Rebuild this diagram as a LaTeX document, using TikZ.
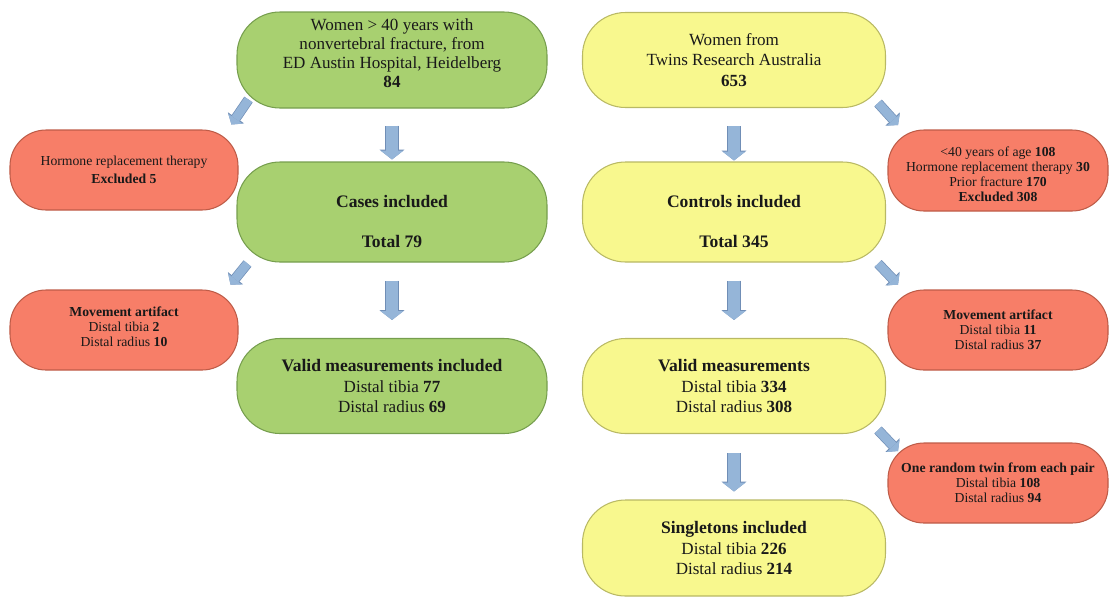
\documentclass[tikz,border=0pt]{standalone}
\usepackage{fontspec}
\setmainfont{Liberation Serif}
\usepackage{tikz}
\usetikzlibrary{arrows.meta}
\definecolor{cgreen}{RGB}{168,208,112}
\definecolor{cgreenline}{RGB}{118,158,78}
\definecolor{cyellow}{RGB}{248,248,142}
\definecolor{cyellowline}{RGB}{185,185,100}
\definecolor{cred}{RGB}{247,126,104}
\definecolor{credline}{RGB}{190,92,72}
\definecolor{carrow}{RGB}{149,181,216}
\definecolor{carrowline}{RGB}{112,142,182}

\begin{document}
\begin{tikzpicture}[thick,
  box/.style={draw,align=center,text=black!90,line width=0.6pt,inner sep=2pt},
  cases node/.style={box,fill=cgreen,draw=cgreenline,minimum width=6.2cm,
    minimum height=1.92cm,rounded corners=0.86cm,font=\fontsize{9.7}{11.6}\selectfont},
  controls node/.style={box,fill=cyellow,draw=cyellowline,minimum width=6.06cm,
    minimum height=1.92cm,rounded corners=0.86cm,font=\fontsize{9.7}{11.6}\selectfont},
  excl node/.style={box,fill=cred,draw=credline,minimum height=1.6cm,
    rounded corners=0.72cm,font=\fontsize{7.8}{8.6}\selectfont},
  down arrow/.style={carrow,line width=7pt,-{Triangle[length=5pt,width=13pt,line width=0pt]},
    preaction={draw=carrowline,line width=7.8pt,-{Triangle[length=5.6pt,width=14.2pt,line width=0pt]}}},
  side arrow/.style={carrow,line width=5pt,-{Triangle[length=4pt,width=10pt,line width=0pt]},
    preaction={draw=carrowline,line width=5.8pt,-{Triangle[length=4.6pt,width=11.2pt,line width=0pt]}}}]
  \useasboundingbox (0,0) rectangle (22.2,-11.94);

  % cases (left column)
  \node[cases node,font=\fontsize{9.7}{10.8}\selectfont] (topL) at (7.84,-1.2) {Women > 40 years with\\nonvertebral fracture, from\\ED Austin Hospital, Heidelberg\\\textbf{84}\rule[-8pt]{0pt}{8pt}};
  \node[cases node,minimum height=2cm] (cases) at (7.84,-4.24) {\rule{0pt}{18pt}\fontsize{10}{12}\selectfont\textbf{Cases included}\\[0.4cm]\fontsize{10}{12}\selectfont\textbf{Total 79}};
  \node[cases node,minimum height=1.9cm] (validL) at (7.84,-7.72) {{\fontsize{10}{12}\selectfont\textbf{Valid measurements included}}\\Distal tibia \textbf{77}\\Distal radius \textbf{69}};
  \node[excl node,minimum width=4.56cm] (hrt) at (2.48,-3.4) {Hormone replacement therapy\\[1.5pt]\textbf{Excluded 5}};
  \node[excl node,minimum width=4.56cm] (moveL) at (2.48,-6.6) {\textbf{Movement artifact}\\Distal tibia \textbf{2}\\Distal radius \textbf{10}\rule[-4pt]{0pt}{4pt}};

  % controls (right column)
  \node[controls node,minimum height=1.9cm] (topR) at (14.68,-1.2) {Women from\\Twins Research Australia\\\textbf{653}};
  \node[controls node,minimum height=2cm] (controls) at (14.68,-4.24) {\rule{0pt}{18pt}\fontsize{10}{12}\selectfont\textbf{Controls included}\\[0.4cm]\fontsize{10}{12}\selectfont\textbf{Total 345}};
  \node[controls node,minimum height=1.9cm] (validR) at (14.68,-7.72) {{\fontsize{10}{12}\selectfont\textbf{Valid measurements}}\\Distal tibia \textbf{334}\\Distal radius \textbf{308}};
  \node[controls node] (single) at (14.68,-10.96) {{\fontsize{10}{12}\selectfont\textbf{Singletons included}}\\Distal tibia \textbf{226}\\Distal radius \textbf{214}};
  \node[excl node,minimum width=4.4cm,minimum height=1.62cm] (exclR) at (19.96,-3.41) {\rule{0pt}{10pt}<40 years of age \textbf{108}\\Hormone replacement therapy \textbf{30}\\Prior fracture \textbf{170}\\\textbf{Excluded 308}};
  \node[excl node,minimum width=4.4cm] (moveR) at (19.96,-6.6) {\textbf{Movement artifact}\\Distal tibia \textbf{11}\\Distal radius \textbf{37}};
  \node[excl node,minimum width=4.4cm] (twin) at (19.96,-9.66) {\textbf{One random twin from each pair}\\Distal tibia \textbf{108}\\Distal radius \textbf{94}};

  \draw[down arrow,shorten <=0.34cm,shorten >=0.04cm] (topL) -- (cases);
  \draw[down arrow,shorten <=0.36cm,shorten >=0.36cm] (cases) -- (validL);
  \draw[down arrow,shorten <=0.36cm,shorten >=0.02cm] (topR) -- (controls);
  \draw[down arrow,shorten <=0.36cm,shorten >=0.36cm] (controls) -- (validR);
  \draw[down arrow,shorten <=0.38cm,shorten >=0.16cm] (validR) -- (single);

  \draw[side arrow] (topL.south west) ++(0.24,0.18) -- ++(-0.34,-0.5);
  \draw[side arrow] (cases.south west) ++(0.22,-0.02) -- ++(-0.34,-0.42);
  \draw[side arrow] (topR.south east) ++(-0.16,0.1) -- ++(0.4,-0.44);
  \draw[side arrow] (controls.south east) ++(-0.16,-0.02) -- ++(0.4,-0.42);
  \draw[side arrow] (validR.south east) ++(-0.16,0.08) -- ++(0.4,-0.42);
\end{tikzpicture}
\end{document}
